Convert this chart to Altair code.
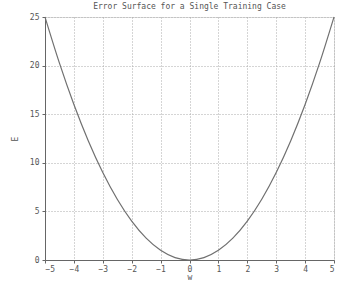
import altair as alt
import pandas as pd

w_vals = [-5, -4.5, -4, -3.5, -3, -2.5, -2, -1.5, -1, -0.5, 0, 0.5, 1, 1.5, 2, 2.5, 3, 3.5, 4, 4.5, 5]
e_vals = [25, 20.25, 16, 12.25, 9, 6.25, 4, 2.25, 1, 0.25, 0, 0.25, 1, 2.25, 4, 6.25, 9, 12.25, 16, 20.25, 25]
x_ticks = [-5, -4, -3, -2, -1, 0, 1, 2, 3, 4, 5]
y_ticks = [0, 5, 10, 15, 20, 25]

df = pd.DataFrame({"w": w_vals, "E": e_vals})

font = "DejaVu Sans Mono"

line = alt.Chart(df).mark_line(color="#707070", strokeWidth=1.2, interpolate="monotone").encode(
    x=alt.X("w:Q", scale=alt.Scale(domain=[-5, 5], nice=False),
            axis=alt.Axis(values=x_ticks, title="w", grid=True, gridDash=[1, 2], gridColor="#aaaaaa",
                          domainColor="#666666", tickColor="#666666", tickSize=3, labelFontSize=8,
                          labelColor="#555555", titleFontSize=8, titleColor="#555555", titleFontWeight="normal",
                          labelFont=font, titleFont=font, titlePadding=0, labelPadding=2)),
    y=alt.Y("E:Q", scale=alt.Scale(domain=[0, 25], nice=False),
            axis=alt.Axis(values=y_ticks, title="E", grid=True, gridDash=[1, 2], gridColor="#aaaaaa",
                          domainColor="#666666", tickColor="#666666", tickSize=3, labelFontSize=8,
                          labelColor="#555555", titleFontSize=8, titleColor="#555555", titleFontWeight="normal",
                          labelFont=font, titleFont=font, titlePadding=10, labelPadding=3)),
)

chart = line.properties(
    width=289, height=243,
    title=alt.TitleParams("Error Surface for a Single Training Case", fontSize=8, font=font,
                          fontWeight="normal", color="#555555", offset=2),
    autosize=alt.AutoSizeParams(type="none"),
    padding={"left": 45, "top": 17, "right": 19, "bottom": 22},
).configure_view(stroke="#bbbbbb", strokeDash=[1, 2]).configure(background="white")

chart.save("out.html", embed_options={"renderer": "svg", "actions": False})
